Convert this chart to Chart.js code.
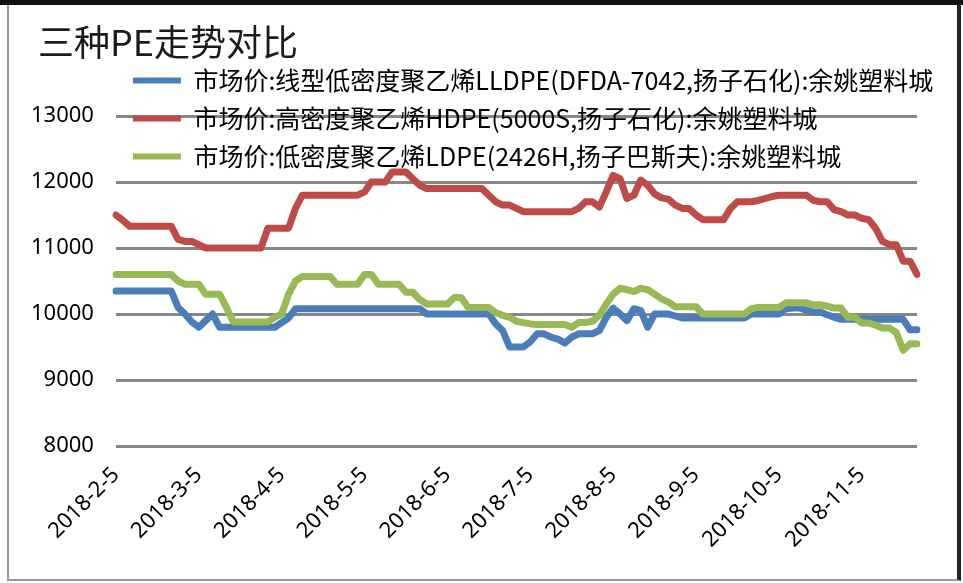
<!DOCTYPE html>
<html>
<head>
<meta charset="utf-8">
<script src="https://cdn.jsdelivr.net/npm/chart.js@4.4.0/dist/chart.umd.min.js"></script>
<style>
  body { margin: 0; background: #fff; }
  #wrap { position: relative; width: 963px; height: 583px; overflow: hidden; }
  #chart { position: absolute; left: 0; top: 0; }
  #topband { position: absolute; left: 0; top: 0; width: 963px; height: 5px; background: #111; }
  #frame { position: absolute; left: 7px; top: 5px; width: 948px; height: 574px;
           border-left: 2px solid #9a9a9a; border-bottom: 2px solid #9a9a9a; border-right: 4px solid #222; }
  #title { position: absolute; left: 38px; top: 22px; font: 36px/36px "Noto Sans CJK SC", sans-serif; color: #1a1a1a; }
</style>
</head>
<body>
<div id="wrap">
  <canvas id="chart" width="963" height="583"></canvas>
  <div id="topband"></div>
  <div id="frame"></div>
  <div id="title">三种PE走势对比</div>
</div>
<script>
// tick labels on the x axis, one every 12 points
const monthTicks = ['2018-2-5', '2018-3-5', '2018-4-5', '2018-5-5', '2018-6-5',
                    '2018-7-5', '2018-8-5', '2018-9-5', '2018-10-5', '2018-11-5'];
const pointsPerTick = 12;

const seriesNames = [
    '市场价:线型低密度聚乙烯LLDPE(DFDA-7042,扬子石化):余姚塑料城',
    '市场价:高密度聚乙烯HDPE(5000S,扬子石化):余姚塑料城',
    '市场价:低密度聚乙烯LDPE(2426H,扬子巴斯夫):余姚塑料城'
];

const lldpe = [
    10350, 10350, 10350, 10350, 10350, 10350, 10350, 10350, 10350, 10100, 10000, 9880,
    9800, 9900, 10000, 9800, 9800, 9800, 9800, 9800, 9800, 9800, 9800, 9800,
    9870, 9940, 10080, 10080, 10080, 10080, 10080, 10080, 10080, 10080, 10080, 10080,
    10080, 10080, 10080, 10080, 10080, 10080, 10080, 10080, 10080, 10000, 10000, 10000,
    10000, 10000, 10000, 10000, 10000, 10000, 10000, 9850, 9750, 9500, 9500, 9500,
    9580, 9700, 9700, 9650, 9620, 9560, 9650, 9700, 9700, 9700, 9750, 9950,
    10090, 10000, 9900, 10080, 10050, 9800, 10000, 10000, 10000, 9970, 9940, 9940,
    9940, 9940, 9940, 9940, 9940, 9940, 9940, 9940, 10000, 10000, 10000, 10000,
    10000, 10080, 10090, 10090, 10060, 10030, 10030, 9990, 9950, 9920, 9920, 9920,
    9920, 9920, 9920, 9920, 9920, 9920, 9920, 9760, 9760
];

const hdpe = [
    11500, 11420, 11330, 11330, 11330, 11330, 11330, 11330, 11330, 11130, 11100, 11100,
    11050, 11000, 11000, 11000, 11000, 11000, 11000, 11000, 11000, 11000, 11300, 11300,
    11300, 11300, 11600, 11800, 11800, 11800, 11800, 11800, 11800, 11800, 11800, 11800,
    11850, 12000, 12000, 12000, 12150, 12150, 12150, 12050, 11950, 11900, 11900, 11900,
    11900, 11900, 11900, 11900, 11900, 11900, 11800, 11700, 11650, 11650, 11600, 11550,
    11550, 11550, 11550, 11550, 11550, 11550, 11550, 11600, 11700, 11700, 11620, 11850,
    12100, 12050, 11750, 11800, 12030, 11950, 11820, 11760, 11740, 11650, 11600, 11600,
    11500, 11430, 11430, 11430, 11430, 11600, 11700, 11700, 11700, 11720, 11750, 11780,
    11800, 11800, 11800, 11800, 11800, 11720, 11700, 11700, 11580, 11550, 11500, 11500,
    11450, 11430, 11300, 11100, 11050, 11050, 10800, 10800, 10600
];

const ldpe = [
    10600, 10600, 10600, 10600, 10600, 10600, 10600, 10600, 10600, 10500, 10450, 10450,
    10450, 10300, 10300, 10300, 10100, 9880, 9880, 9880, 9880, 9880, 9880, 9950,
    10000, 10300, 10500, 10570, 10570, 10570, 10570, 10570, 10450, 10450, 10450, 10450,
    10600, 10600, 10450, 10450, 10450, 10450, 10330, 10330, 10220, 10150, 10150, 10150,
    10150, 10250, 10250, 10100, 10100, 10100, 10100, 10020, 9980, 9950, 9890, 9870,
    9850, 9840, 9840, 9840, 9840, 9840, 9800, 9870, 9870, 9890, 9980, 10150,
    10300, 10390, 10370, 10340, 10390, 10370, 10300, 10230, 10180, 10110, 10110, 10110,
    10110, 10000, 10000, 10000, 10000, 10000, 10000, 10000, 10080, 10100, 10100, 10100,
    10100, 10170, 10170, 10170, 10170, 10140, 10140, 10120, 10090, 10090, 9950, 9950,
    9865, 9865, 9830, 9790, 9790, 9720, 9450, 9550, 9550
];

const colors = ['#4a7ebb', '#be4b48', '#98b954'];

const labels = lldpe.map((v, i) => i % pointsPerTick === 0 ? monthTicks[i / pointsPerTick] : '');

function makeSet(idx, values, order) {
    return {
        label: seriesNames[idx],
        data: values,
        borderColor: colors[idx],
        backgroundColor: colors[idx],
        borderWidth: 7,
        pointRadius: 0,
        tension: 0,
        borderJoinStyle: 'round',
        borderCapStyle: 'round',
        order: order
    };
}

// the legend overlaps the plot like the original, so let it draw past its own box
const legendSpill = {
    id: 'legendSpill',
    afterLayout(chart) {
        const lg = chart.legend;
        lg.left = lg.left + 4;
        lg.right = 963;
        lg.bottom = lg.top + 160;
    }
};

const ctx = document.getElementById('chart').getContext('2d');

new Chart(ctx, {
    type: 'line',
    data: {
        labels: labels,
        datasets: [makeSet(0, lldpe, 3), makeSet(1, hdpe, 2), makeSet(2, ldpe, 1)]
    },
    plugins: [legendSpill],
    options: {
        responsive: false,
        animation: false,
        layout: { padding: { left: 9, right: 46, top: 55, bottom: 14 } },
        plugins: {
            tooltip: { enabled: false },
            legend: {
                position: 'top',
                align: 'start',
                fullSize: false,
                maxHeight: 61,
                labels: {
                    boxWidth: 48,
                    boxHeight: 6,
                    padding: 13,
                    color: '#000',
                    font: { family: '"Noto Sans CJK SC", sans-serif', size: 25 },
                    sort: (a, b) => a.datasetIndex - b.datasetIndex,
                    generateLabels: chart => Chart.defaults.plugins.legend.labels.generateLabels(chart)
                        .map(item => Object.assign(item, { lineWidth: 0 }))
                }
            }
        },
        scales: {
            x: {
                grid: { display: false, drawTicks: false },
                border: { display: false },
                ticks: {
                    autoSkip: false,
                    minRotation: 45,
                    maxRotation: 45,
                    padding: 16,
                    color: '#000',
                    font: { family: '"Noto Sans", sans-serif', size: 22 }
                }
            },
            y: {
                min: 8000,
                max: 13000,
                ticks: {
                    stepSize: 1000,
                    padding: 22,
                    color: '#000',
                    font: { family: '"Noto Sans", sans-serif', size: 22 },
                    callback: v => String(v)
                },
                grid: { color: '#878787', lineWidth: 3, drawTicks: false },
                border: { display: false }
            }
        }
    }
});
</script>
</body>
</html>
